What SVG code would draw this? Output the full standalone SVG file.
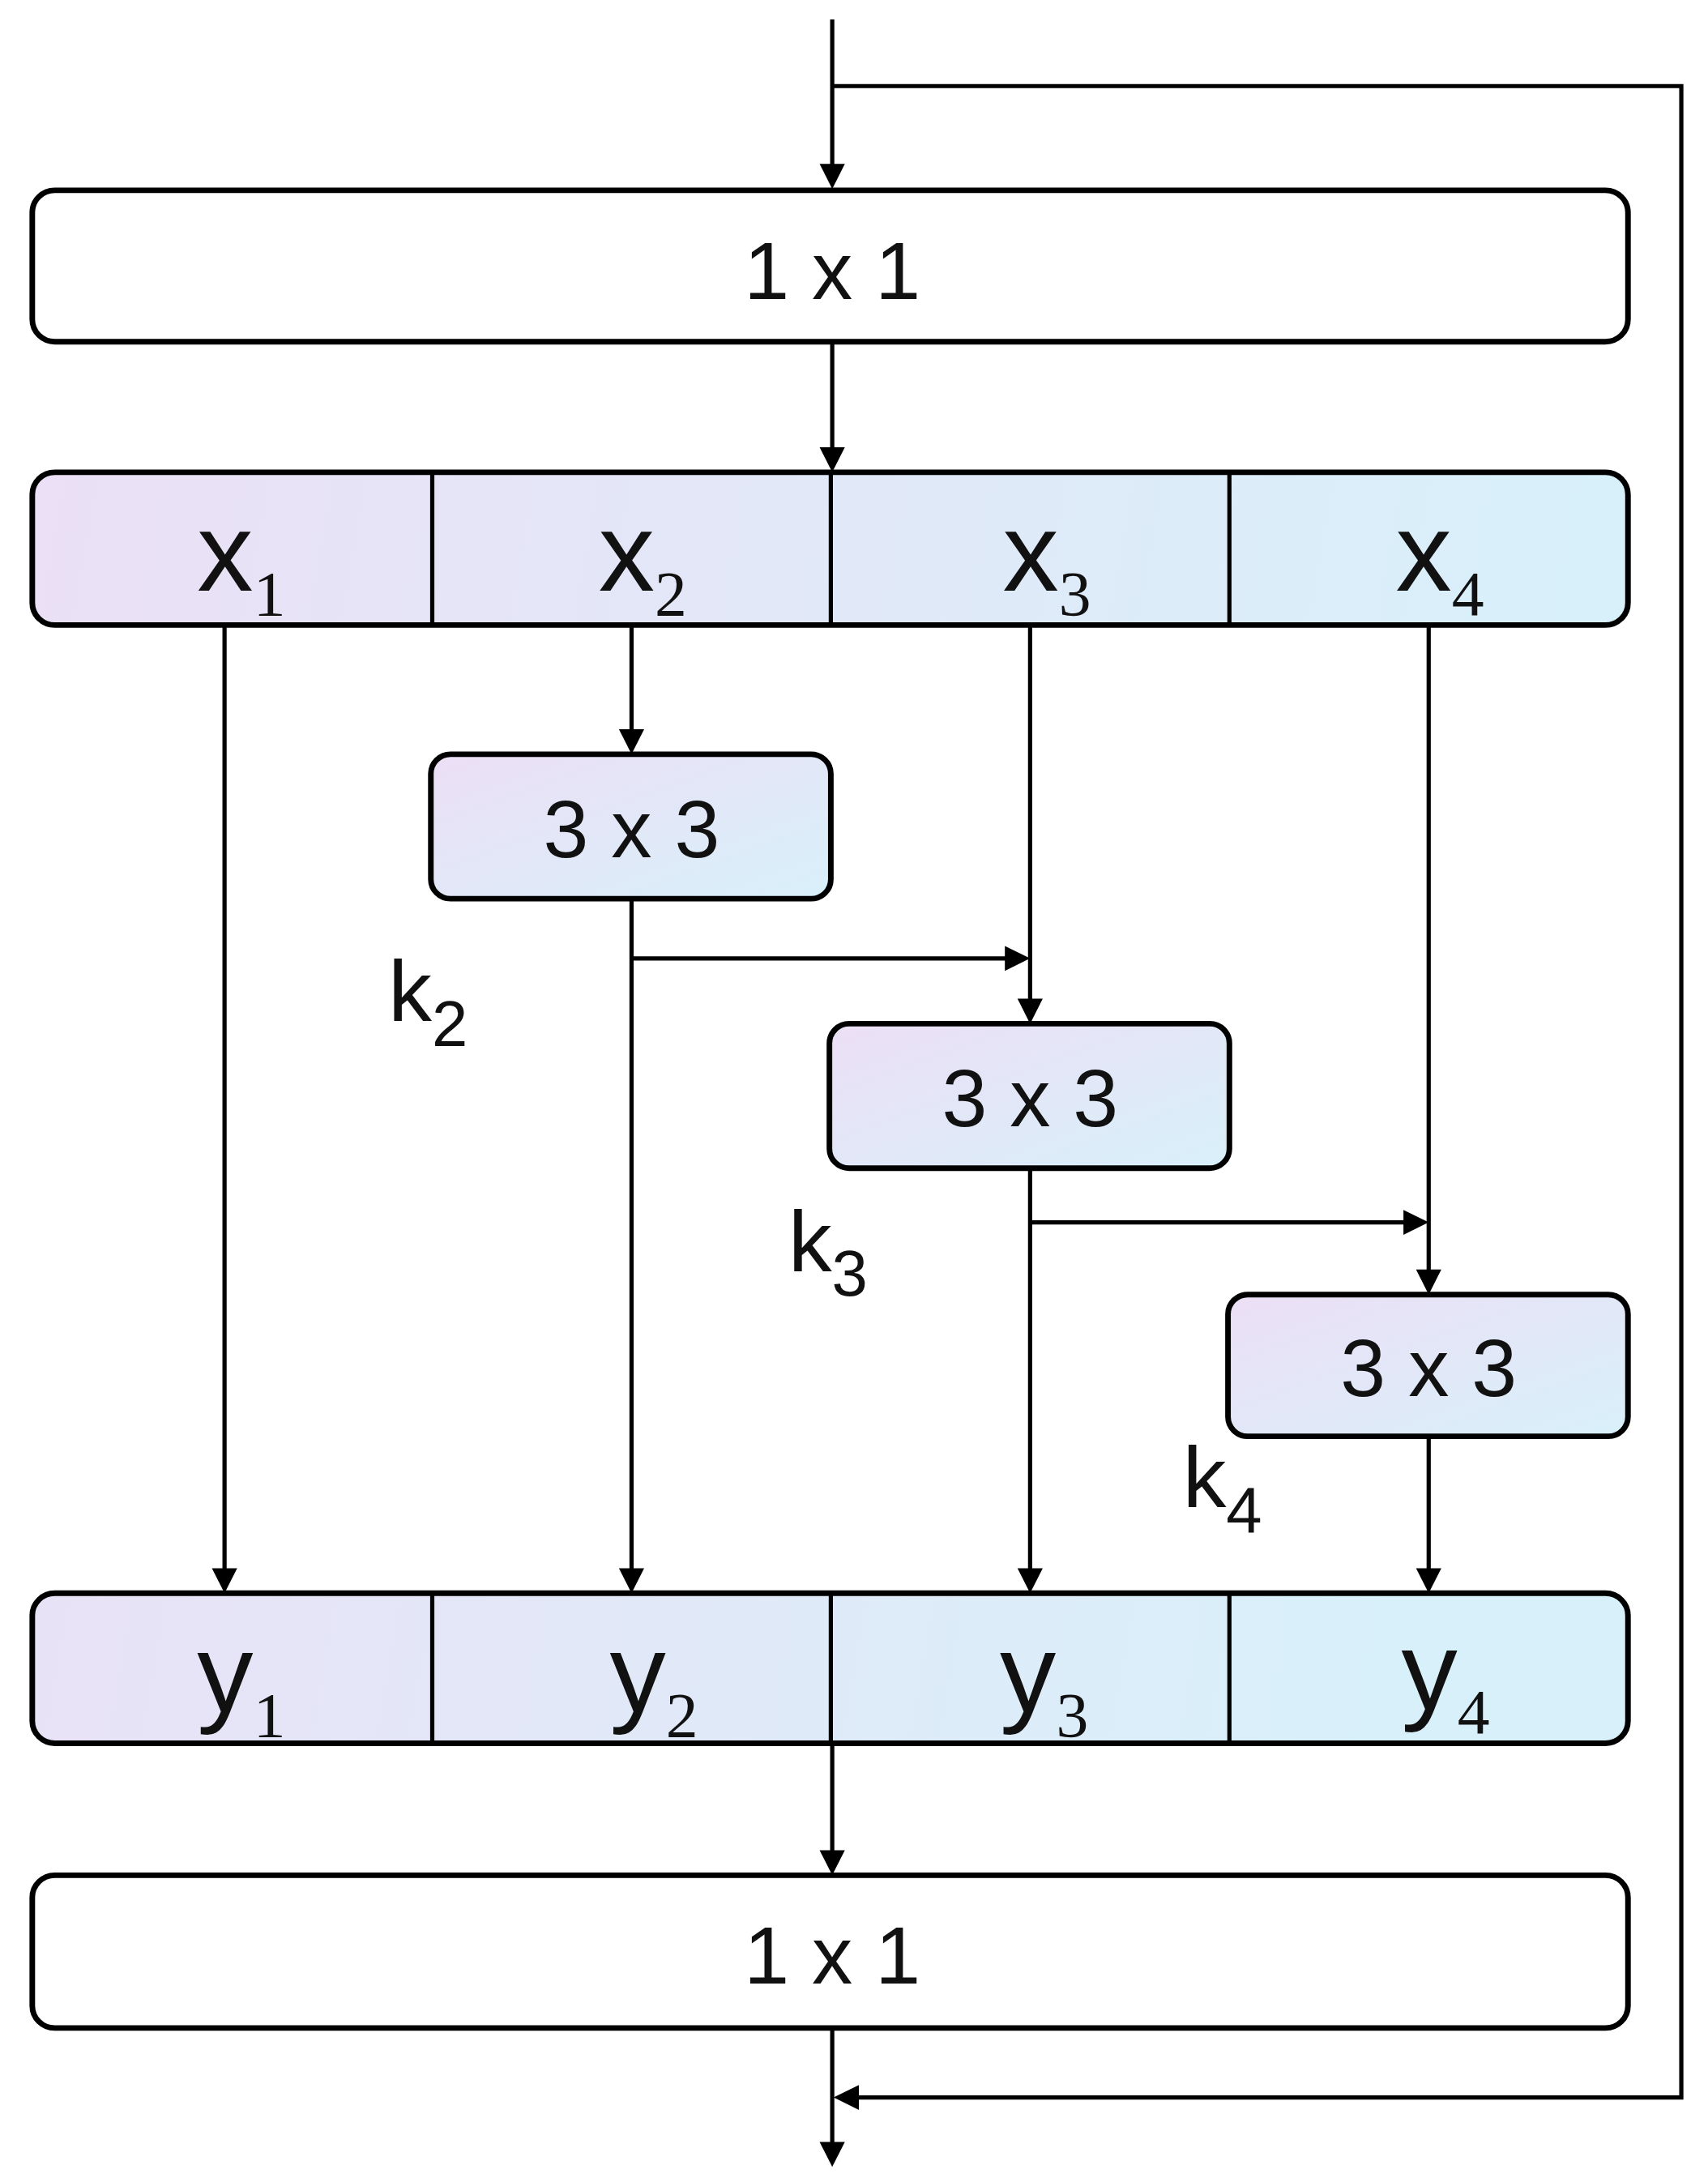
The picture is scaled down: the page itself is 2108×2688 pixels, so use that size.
<svg xmlns="http://www.w3.org/2000/svg" width="2108" height="2688" viewBox="0 0 2108 2688">
<defs>
<linearGradient id="g" x1="0" y1="0" x2="1" y2="1"><stop offset="0" stop-color="#ecdff5"/><stop offset="1" stop-color="#d8f0fa"/></linearGradient>
<linearGradient id="gb" gradientUnits="userSpaceOnUse" x1="23" y1="0" x2="1160" y2="200"><stop offset="0" stop-color="#ecdff5"/><stop offset="1" stop-color="#d8f0fa"/></linearGradient>
<marker id="a" markerWidth="10" markerHeight="8" refX="10" refY="4" orient="auto" markerUnits="userSpaceOnUse" viewBox="0 0 10 8"><path d="M0,0 L10,4 L0,8 Z" fill="#000"/></marker>
</defs>
<style>
.b{stroke:#000;stroke-width:4}
.l{stroke:#000;stroke-width:3;fill:none}
.t{font-family:"Liberation Sans",Arial,sans-serif;fill:#111;text-anchor:middle}
.s{font-family:"Liberation Serif",serif}
</style>
<rect width="2108" height="2688" fill="#fff"/>
<g transform="scale(1.7321 1.7143)">
<g id="connectors">
<path class="l" d="M593,14 V122"/>
<path class="l" d="M593,62 H1198 V1510 H608"/>
<path class="l" d="M593,246 V327"/>
<path class="l" d="M160,450 V1134"/>
<path class="l" d="M450,450 V530"/>
<path class="l" d="M450,647 V1134"/>
<path class="l" d="M450,690 H721"/>
<path class="l" d="M734,450 V724"/>
<path class="l" d="M734,841 V1134"/>
<path class="l" d="M734,880 H1005"/>
<path class="l" d="M1018,450 V919"/>
<path class="l" d="M1018,1034 V1134"/>
<path class="l" d="M593,1255 V1337"/>
<path class="l" d="M593,1460 V1547"/>
<g fill="#000">
<path d="M584,118 L602,118 L593,136 Z"/>
<path d="M584,322 L602,322 L593,340 Z"/>
<path d="M151,1129 L169,1129 L160,1147 Z"/>
<path d="M441,525 L459,525 L450,543 Z"/>
<path d="M441,1129 L459,1129 L450,1147 Z"/>
<path d="M716,681 L716,699 L734,690 Z"/>
<path d="M725,719 L743,719 L734,737 Z"/>
<path d="M725,1129 L743,1129 L734,1147 Z"/>
<path d="M1000,871 L1000,889 L1018,880 Z"/>
<path d="M1009,914 L1027,914 L1018,932 Z"/>
<path d="M1009,1129 L1027,1129 L1018,1147 Z"/>
<path d="M584,1332 L602,1332 L593,1350 Z"/>
<path d="M612,1501 L612,1519 L594,1510 Z"/>
<path d="M584,1542 L602,1542 L593,1560 Z"/>
</g>
</g>
<g id="conv1"><rect class="b" x="23" y="137" width="1137" height="109" rx="16" fill="#fff"/><text class="t" x="593" y="215" font-size="58">1 x 1</text></g>
<g id="xsplit">
<rect class="b" x="23" y="340" width="1137" height="110" rx="16" fill="url(#gb)"/>
<path class="l" d="M308,340 V450 M592,340 V450 M876,340 V450"/>
<text class="t" x="172" y="425" font-size="80" text-anchor="middle"><tspan>x</tspan><tspan class="s" font-size="46" dy="18">1</tspan></text>
<text class="t" x="458" y="425" font-size="80"><tspan>x</tspan><tspan class="s" font-size="46" dy="18">2</tspan></text>
<text class="t" x="746" y="425" font-size="80"><tspan>x</tspan><tspan class="s" font-size="46" dy="18">3</tspan></text>
<text class="t" x="1026" y="425" font-size="80"><tspan>x</tspan><tspan class="s" font-size="46" dy="18">4</tspan></text>
</g>
<g id="k2box"><rect class="b" x="307" y="543" width="285" height="104" rx="14" fill="url(#g)"/><text class="t" x="450" y="617" font-size="58">3 x 3</text></g>
<g id="k3box"><rect class="b" x="591" y="737" width="285" height="104" rx="14" fill="url(#g)"/><text class="t" x="734" y="811" font-size="58">3 x 3</text></g>
<g id="k4box"><rect class="b" x="875" y="932" width="285" height="102" rx="14" fill="url(#g)"/><text class="t" x="1018" y="1005" font-size="58">3 x 3</text></g>
<g id="k2"><text class="t" x="305" y="735" font-size="62"><tspan>k</tspan><tspan font-size="46" dy="18">2</tspan></text></g>
<g id="k3"><text class="t" x="590" y="915" font-size="62"><tspan>k</tspan><tspan font-size="46" dy="18">3</tspan></text></g>
<g id="k4"><text class="t" x="871" y="1085" font-size="62"><tspan>k</tspan><tspan font-size="46" dy="18">4</tspan></text></g>
<g id="ysplit">
<rect class="b" x="23" y="1147" width="1137" height="108" rx="16" fill="url(#gb)"/>
<path class="l" d="M308,1147 V1255 M592,1147 V1255 M876,1147 V1255"/>
<text class="t" x="172" y="1232" font-size="80"><tspan>y</tspan><tspan class="s" font-size="46" dy="18">1</tspan></text>
<text class="t" x="466" y="1232" font-size="80"><tspan>y</tspan><tspan class="s" font-size="46" dy="18">2</tspan></text>
<text class="t" x="744" y="1232" font-size="80"><tspan>y</tspan><tspan class="s" font-size="46" dy="18">3</tspan></text>
<text class="t" x="1030" y="1230" font-size="80"><tspan>y</tspan><tspan class="s" font-size="46" dy="18">4</tspan></text>
</g>
<g id="conv2"><rect class="b" x="23" y="1350" width="1137" height="110" rx="16" fill="#fff"/><text class="t" x="593" y="1428" font-size="58">1 x 1</text></g>
</g>
</svg>
